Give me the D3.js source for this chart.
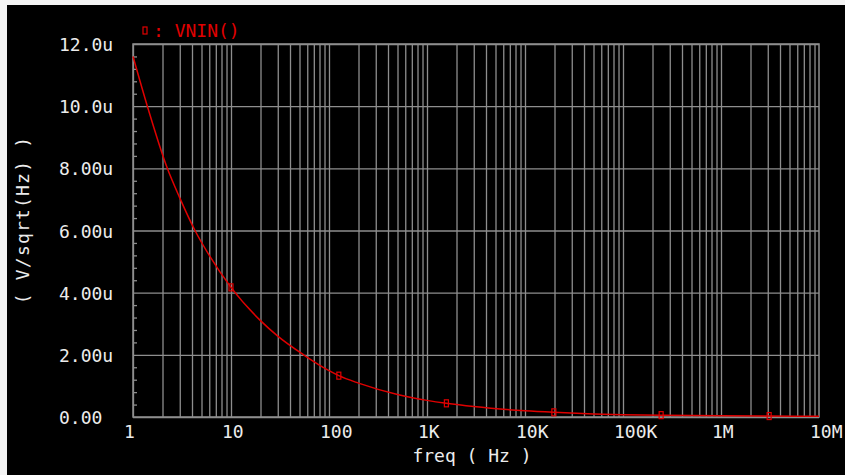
<!DOCTYPE html>
<html>
<head>
<meta charset="utf-8">
<script src="https://cdn.jsdelivr.net/npm/d3@7"></script>
<style>
  html, body { margin: 0; padding: 0; background: #f4f4f4; }
  svg { display: block; }
  text { font-family: "DejaVu Sans Mono", monospace; }
</style>
</head>
<body>
<div id="chart"></div>
<script>
// noise spectrum (Hz, V/sqrt(Hz) in micro)
let freqs = [1, 1.4, 2.24, 3, 4.29, 6, 10, 20, 30, 55, 100, 126, 200, 500, 1000, 1577, 3000, 10000, 19700, 50000, 100000, 245000, 1e6, 3.1e6, 1e7];
let vnin = [11.6, 10.0, 8.0, 7.05, 6.0, 5.2, 4.17, 3.1, 2.6, 2.0, 1.49, 1.33, 1.09, 0.725, 0.535, 0.44, 0.334, 0.199, 0.15, 0.10, 0.075, 0.06, 0.04, 0.03, 0.025];
let markerFreqs = [10, 126, 1577, 19700, 245000, 3.1e6];
let xTickValues = [1, 10, 100, 1e3, 1e4, 1e5, 1e6, 1e7];
let xTickLabels = ['1', '10', '100', '1K', '10K', '100K', '1M', '10M'];
let yTickValues = [0, 2, 4, 6, 8, 10, 12];
let yTickLabels = ['0.00', '2.00u', '4.00u', '6.00u', '8.00u', '10.0u', '12.0u'];

let width = 845;
let height = 475;
let plotL = 133, plotR = 819, plotT = 44, plotB = 417;
let gridColor = '#8e8e8e';
let textColor = '#ececec';

let svg = d3.select('#chart')
    .append('svg')
    .attr('width', width)
    .attr('height', height);

svg.append('rect')
    .attr('x', 7).attr('y', 5)
    .attr('width', width - 7).attr('height', height - 5)
    .attr('fill', '#000');

let x = d3.scaleLog().domain([1, 1e7]).range([plotL, plotR]);
let y = d3.scaleLinear().domain([0, 12]).range([plotB, plotT]);

// vertical grid: 1..9 of every decade
let minorX = [];
for (let e = 0; e < 7; e++) {
    for (let m = 1; m < 10; m++) minorX.push(m * Math.pow(10, e));
}
let gx = d3.axisBottom(x).tickValues(minorX).tickSize(-(plotB - plotT)).tickFormat('');
svg.append('g')
    .attr('transform', 'translate(0,' + plotB + ')')
    .call(gx)
    .call(g => g.select('.domain').remove())
    .selectAll('line')
    .attr('stroke', gridColor)
    .attr('stroke-width', 1.3);

// horizontal grid every 2u
let gy = d3.axisLeft(y).tickValues(yTickValues).tickSize(-(plotR - plotL)).tickFormat('');
svg.append('g')
    .attr('transform', 'translate(' + plotL + ',0)')
    .call(gy)
    .call(g => g.select('.domain').remove())
    .selectAll('line')
    .attr('stroke', gridColor)
    .attr('stroke-width', 1.3);

// minor ticks on the left edge
let minorY = d3.range(0, 12.01, 0.4).filter(v => Math.abs(v / 2 - Math.round(v / 2)) > 0.01);
svg.append('g')
    .attr('transform', 'translate(' + plotL + ',0)')
    .call(d3.axisRight(y).tickValues(minorY).tickSize(4).tickFormat(''))
    .call(g => g.select('.domain').remove())
    .selectAll('line')
    .attr('stroke', gridColor)
    .attr('stroke-width', 1.3);

svg.append('rect')
    .attr('x', plotL).attr('y', plotT)
    .attr('width', plotR - plotL).attr('height', plotB - plotT)
    .attr('fill', 'none')
    .attr('stroke', gridColor)
    .attr('stroke-width', 1.5);

// tick labels
svg.selectAll('text.xlab')
    .data(xTickValues)
    .enter()
    .append('text')
    .attr('class', 'xlab')
    .attr('x', d => x(d) - 9)
    .attr('y', 438)
    .attr('fill', textColor)
    .attr('font-size', 18)
    .text((d, i) => xTickLabels[i]);

svg.selectAll('text.ylab')
    .data(yTickValues)
    .enter()
    .append('text')
    .attr('class', 'ylab')
    .attr('x', 59)
    .attr('y', d => y(d) + 7)
    .attr('fill', textColor)
    .attr('font-size', 18)
    .text((d, i) => yTickLabels[i]);

svg.append('text')
    .attr('x', 472).attr('y', 462)
    .attr('text-anchor', 'middle')
    .attr('fill', textColor)
    .attr('font-size', 18)
    .text('freq ( Hz )');

svg.append('text')
    .attr('transform', 'translate(29,220) rotate(-90)')
    .attr('text-anchor', 'middle')
    .attr('fill', textColor)
    .attr('font-size', 18)
    .attr('letter-spacing', 1.2)
    .text('( V/sqrt(Hz) )');

// curve
let line = d3.line()
    .x((d, i) => x(freqs[i]))
    .y(d => y(d))
    .curve(d3.curveMonotoneX);

svg.append('path')
    .datum(vnin)
    .attr('d', line)
    .attr('fill', 'none')
    .attr('stroke', '#e00000')
    .attr('stroke-width', 1.5);

let logF = freqs.map(Math.log10);
let interp = f => {
    let lf = Math.log10(f);
    let i = d3.bisectRight(logF, lf) - 1;
    i = Math.max(0, Math.min(i, logF.length - 2));
    let t = (lf - logF[i]) / (logF[i + 1] - logF[i]);
    return vnin[i] + t * (vnin[i + 1] - vnin[i]);
};

svg.selectAll('rect.mark')
    .data(markerFreqs)
    .enter()
    .append('rect')
    .attr('class', 'mark')
    .attr('x', d => x(d) - 2)
    .attr('y', d => y(interp(d)) - 3.5)
    .attr('width', 4)
    .attr('height', 7)
    .attr('fill', 'none')
    .attr('stroke', '#e00000')
    .attr('stroke-width', 1.2);

// legend
svg.append('rect')
    .attr('x', 143).attr('y', 27)
    .attr('width', 4).attr('height', 7)
    .attr('fill', 'none')
    .attr('stroke', '#e00000')
    .attr('stroke-width', 1.2);
svg.append('text')
    .attr('x', 153).attr('y', 37)
    .attr('fill', '#e00000')
    .attr('font-size', 18)
    .text(': VNIN()');
</script>
</body>
</html>
